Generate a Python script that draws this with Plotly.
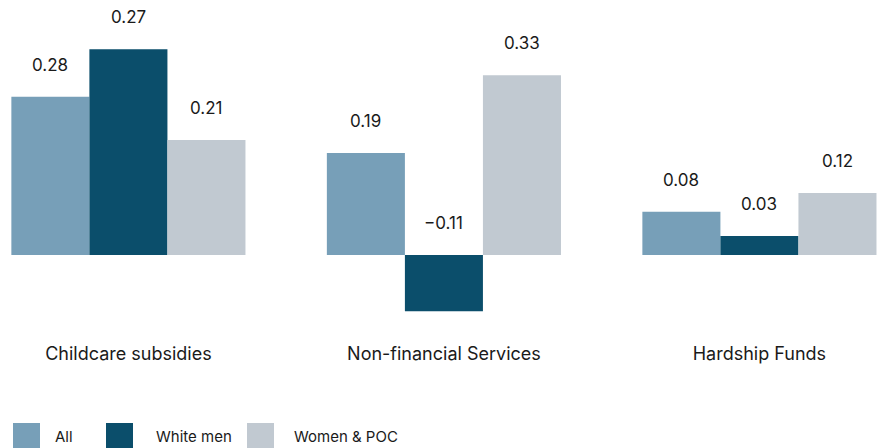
import plotly.graph_objects as go

# data
categories = ["Childcare subsidies", "Non-financial Services", "Hardship Funds"]
series_names = ["All", "White men", "Women & POC"]
all_vals = [0.293, 0.189, 0.080]
white_men_vals = [0.381, -0.104, 0.035]
women_poc_vals = [0.213, 0.333, 0.115]
all_labels = ["0.28", "0.19", "0.08"]
white_men_labels = ["0.27", "\u22120.11", "0.03"]
women_poc_labels = ["0.21", "0.33", "0.12"]

colors = ["#779fb8", "#0b4e6b", "#c1c9d1"]
W, H = 879, 448
FONT = "Inter, Roboto, sans-serif"
TXT = "#1a1a1a"

values = [all_vals, white_men_vals, women_poc_vals]
labels = [all_labels, white_men_labels, women_poc_labels]
x = list(range(len(categories)))

fig = go.Figure()
for name, vals, col in zip(series_names, values, colors):
    fig.add_trace(go.Bar(x=x, y=vals, name=name, marker=dict(color=col, line=dict(width=0)),
                         showlegend=False, hoverinfo="skip"))

# value labels sit above the bar (or above zero for negative bars)
bw = (1 - 0.258) / 3
for i, (vals, labs) in enumerate(zip(values, labels)):
    for j, (v, lab) in enumerate(zip(vals, labs)):
        fig.add_annotation(x=j + (i - 1) * bw, y=max(v, 0), text=lab, showarrow=False,
                           yshift=32, font=dict(size=17, color=TXT, family=FONT))

# hand-made legend with big square swatches
plot_top, plot_bot = 10, 330
def py(p):
    return (plot_bot - p) / (plot_bot - plot_top)

sw_left = [13, 106, 247]
txt_left = [53, 154, 292]
for name, col, sl, tl in zip(series_names, colors, sw_left, txt_left):
    fig.add_shape(type="rect", xref="paper", yref="paper", x0=sl / W, x1=(sl + 27) / W,
                  y0=py(423), y1=py(450), fillcolor=col, line=dict(width=0))
    fig.add_annotation(xref="paper", yref="paper", x=tl / W, y=py(436), text=name,
                       xanchor="left", yanchor="middle", showarrow=False,
                       font=dict(size=15, color=TXT, family=FONT))

fig.update_layout(
    width=W, height=H,
    margin=dict(l=0, r=0, t=plot_top, b=H - plot_bot),
    barmode="group", bargap=0.258, bargroupgap=0,
    plot_bgcolor="white", paper_bgcolor="white",
    font=dict(family=FONT, color=TXT, size=17),
    xaxis=dict(range=[-0.407, 2.379], tickvals=x, ticktext=categories, showgrid=False,
               zeroline=False, showline=False, ticklabelstandoff=11,
               tickfont=dict(size=18, color=TXT)),
    yaxis=dict(range=[-0.1389, 0.4537], visible=False, showgrid=False, zeroline=False),
)

fig.write_html("out.html", config={"displayModeBar": False},
               post_script="document.body.style.margin='0';document.body.style.overflow='hidden';")
